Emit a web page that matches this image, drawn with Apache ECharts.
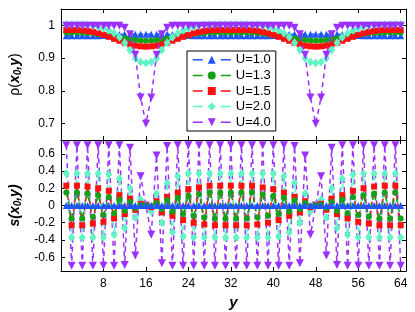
<!DOCTYPE html>
<html><head><meta charset="utf-8">
<script src="https://cdn.jsdelivr.net/npm/echarts@6/dist/echarts.min.js"></script>
<style>html,body{margin:0;padding:0;background:#fff}#c{width:415px;height:312px}</style>
</head><body><div id="c"></div>
<script>
const sites = [1,2,3,4,5,6,7,8,9,10,11,12,13,14,15,16,17,18,19,20,21,22,23,24,25,26,27,28,29,30,31,32,33,34,35,36,37,38,39,40,41,42,43,44,45,46,47,48,49,50,51,52,53,54,55,56,57,58,59,60,61,62,63,64];
const seriesNames = ['U=1.0','U=1.3','U=1.5','U=2.0','U=4.0'];
const xTicks = [8,16,24,32,40,48,56,64];
const rhoTicks = [0.7,0.8,0.9,1];
const sTicks = [-0.6,-0.4,-0.2,0,0.2,0.4,0.6];

// rho(x0,y)
const rhoU10 = [0.968,0.968,0.968,0.968,0.968,0.968,0.968,0.969,0.970,0.971,0.972,0.973,0.973,0.973,0.973,0.973,0.973,0.973,0.973,0.973,0.972,0.971,0.970,0.969,0.968,0.968,0.968,0.968,0.968,0.968,0.968,0.968,0.968,0.968,0.968,0.968,0.968,0.968,0.968,0.969,0.970,0.971,0.972,0.973,0.973,0.973,0.973,0.973,0.973,0.973,0.973,0.973,0.972,0.971,0.970,0.969,0.968,0.968,0.968,0.968,0.968,0.968,0.968,0.968];
const rhoU13 = [0.978,0.978,0.978,0.978,0.977,0.976,0.974,0.972,0.969,0.966,0.963,0.960,0.957,0.955,0.954,0.953,0.954,0.955,0.957,0.960,0.963,0.966,0.969,0.972,0.974,0.976,0.977,0.978,0.978,0.978,0.978,0.978,0.978,0.978,0.978,0.978,0.977,0.976,0.974,0.972,0.969,0.966,0.963,0.960,0.957,0.955,0.954,0.953,0.954,0.955,0.957,0.960,0.963,0.966,0.969,0.972,0.974,0.976,0.977,0.978,0.978,0.978,0.978,0.978];
const rhoU15 = [0.986,0.986,0.986,0.985,0.983,0.980,0.976,0.971,0.965,0.959,0.953,0.947,0.942,0.938,0.936,0.935,0.936,0.938,0.942,0.947,0.953,0.959,0.965,0.971,0.976,0.980,0.983,0.985,0.986,0.986,0.986,0.986,0.986,0.986,0.986,0.985,0.983,0.980,0.976,0.971,0.965,0.959,0.953,0.947,0.942,0.938,0.936,0.935,0.936,0.938,0.942,0.947,0.953,0.959,0.965,0.971,0.976,0.980,0.983,0.985,0.986,0.986,0.986,0.986];
const rhoU20 = [1.003,1.003,1.003,1.002,1.002,0.999,0.996,0.991,0.985,0.976,0.964,0.947,0.925,0.900,0.888,0.885,0.888,0.900,0.925,0.947,0.964,0.976,0.985,0.991,0.996,0.999,1.002,1.002,1.003,1.003,1.003,1.003,1.003,1.003,1.003,1.002,1.002,0.999,0.996,0.991,0.985,0.976,0.964,0.947,0.925,0.900,0.888,0.885,0.888,0.900,0.925,0.947,0.964,0.976,0.985,0.991,0.996,0.999,1.002,1.002,1.003,1.003,1.003,1.003];
const rhoU40 = [0.999,0.999,0.999,0.999,0.999,0.999,0.999,0.999,0.999,0.999,0.999,0.993,0.973,0.910,0.780,0.700,0.780,0.910,0.973,0.993,0.999,0.999,0.999,0.999,0.999,0.999,0.999,0.999,0.999,0.999,0.999,0.999,0.999,0.999,0.999,0.999,0.999,0.999,0.999,0.999,0.999,0.999,0.999,0.993,0.973,0.910,0.780,0.700,0.780,0.910,0.973,0.993,0.999,0.999,0.999,0.999,0.999,0.999,0.999,0.999,0.999,0.999,0.999,0.999];

// s(x0,y)
const sU10 = [0,0,0,0,0,0,0,0,0,0,0,0,0,0,0,0,0,0,0,0,0,0,0,0,0,0,0,0,0,0,0,0,0,0,0,0,0,0,0,0,0,0,0,0,0,0,0,0,0,0,0,0,0,0,0,0,0,0,0,0,0,0,0,0];
const sU13 = [0.15,-0.15,0.15,-0.15,0.14,-0.13,0.12,-0.11,0.10,-0.09,0.07,-0.06,0.04,-0.03,0.01,0,-0.01,0.03,-0.04,0.06,-0.07,0.09,-0.10,0.11,-0.12,0.13,-0.14,0.15,-0.15,0.15,-0.15,0.15,-0.15,0.15,-0.15,0.15,-0.14,0.13,-0.12,0.11,-0.10,0.09,-0.07,0.06,-0.04,0.03,-0.01,0,0.01,-0.03,0.04,-0.06,0.07,-0.09,0.10,-0.11,0.12,-0.13,0.14,-0.15,0.15,-0.15,0.15,-0.15];
const sU15 = [0.23,-0.23,0.23,-0.23,0.22,-0.21,0.20,-0.19,0.17,-0.15,0.12,-0.10,0.08,-0.05,0.02,0,-0.02,0.05,-0.08,0.10,-0.12,0.15,-0.17,0.19,-0.20,0.21,-0.22,0.23,-0.23,0.23,-0.23,0.23,-0.23,0.23,-0.23,0.23,-0.22,0.21,-0.20,0.19,-0.17,0.15,-0.12,0.10,-0.08,0.05,-0.02,0,0.02,-0.05,0.08,-0.10,0.12,-0.15,0.17,-0.19,0.20,-0.21,0.22,-0.23,0.23,-0.23,0.23,-0.23];
const sU20 = [0.37,-0.37,0.37,-0.37,0.37,-0.37,0.37,-0.37,0.36,-0.34,0.31,-0.26,0.20,-0.14,0.07,0,-0.07,0.14,-0.20,0.26,-0.31,0.34,-0.36,0.37,-0.37,0.37,-0.37,0.37,-0.37,0.37,-0.37,0.37,-0.37,0.37,-0.37,0.37,-0.37,0.37,-0.37,0.37,-0.36,0.34,-0.31,0.26,-0.20,0.14,-0.07,0,0.07,-0.14,0.20,-0.26,0.31,-0.34,0.36,-0.37,0.37,-0.37,0.37,-0.37,0.37,-0.37,0.37,-0.37];
const sU40 = [0.70,-0.70,0.70,-0.70,0.70,-0.70,0.70,-0.70,0.70,-0.70,0.70,-0.69,0.67,-0.58,0.34,0,-0.34,0.58,-0.67,0.69,-0.70,0.70,-0.70,0.70,-0.70,0.70,-0.70,0.70,-0.70,0.70,-0.70,0.70,-0.70,0.70,-0.70,0.70,-0.70,0.70,-0.70,0.70,-0.70,0.70,-0.70,0.69,-0.67,0.58,-0.34,0,0.34,-0.58,0.67,-0.69,0.70,-0.70,0.70,-0.70,0.70,-0.70,0.70,-0.70,0.70,-0.70,0.70,-0.70];

const rhoData = [rhoU10, rhoU13, rhoU15, rhoU20, rhoU40];
const sData = [sU10, sU13, sU15, sU20, sU40];
const colors = ['#1f55ff','#15a015','#ff1010','#5ff5c5','#9b30ff'];
const symbols = ['triangle','circle','rect','diamond','triangle'];
const symRot = [0,0,0,0,180];
const symSizes = [7,6,6,[7,9],8];

const chart = echarts.init(document.getElementById('c'), null, {renderer:'canvas'});
const pairs = arr => sites.map((x,i)=>[x, arr[i]]);
const series = [];
for (let i=0;i<5;i++){
  series.push({name:seriesNames[i], type:'line', xAxisIndex:0, yAxisIndex:0, data:pairs(rhoData[i]),
    symbol:symbols[i], symbolRotate:symRot[i], symbolSize:symSizes[i], showAllSymbol:true,
    itemStyle:{color:colors[i], borderWidth:0}, lineStyle:{color:colors[i], width:1.5, type:[5,4]},
    z:2+i, animation:false, clip:true});
}
for (let i=0;i<5;i++){
  series.push({name:seriesNames[i], type:'line', xAxisIndex:2, yAxisIndex:2, data:pairs(sData[i]),
    symbol:symbols[i], symbolRotate:symRot[i], symbolSize:symSizes[i], showAllSymbol:true,
    itemStyle:{color:colors[i], borderWidth:0}, lineStyle:{color:colors[i], width:1.5, type:[5,4]},
    z:7-i, animation:false, clip:true});
}
const lineS = {show:true, onZero:false, lineStyle:{color:'#000', width:1}};
const tickS = (vals)=>({show:true, inside:true, length:4, customValues:vals, lineStyle:{color:'#000', width:1}});
const lblFont = {fontFamily:'Liberation Sans, Arial, sans-serif', fontSize:12, color:'#000'};
const xBase = {type:'value', min:0, max:65, splitLine:{show:false}, axisLine:lineS};
const option = {
  animation:false,
  grid:[{left:58, top:9, right:9, height:131},{left:58, top:140, right:9, height:131}],
  legend:{data:seriesNames, orient:'vertical', left:187, top:51, itemWidth:38, itemHeight:10, itemGap:0,
    padding:[1,5,1,5], borderColor:'#000', borderWidth:1, backgroundColor:'#fff',
    lineStyle:{type:[10,18], width:1.5},
    textStyle:{fontFamily:'Liberation Sans, Arial, sans-serif', fontSize:13, lineHeight:15.6, color:'#000'}, z:20},
  xAxis:[
    Object.assign({gridIndex:0, position:'bottom', axisTick:tickS(xTicks), axisLabel:{show:false}}, xBase),
    Object.assign({gridIndex:0, position:'top', axisTick:tickS(xTicks), axisLabel:{show:false}}, xBase),
    Object.assign({gridIndex:1, position:'bottom', axisTick:tickS(xTicks),
      axisLabel:Object.assign({show:true, customValues:xTicks, margin:7}, lblFont),
      name:'y', nameLocation:'middle', nameGap:24,
      nameTextStyle:{fontFamily:'Liberation Sans, Arial, sans-serif', fontSize:15, fontWeight:'bold', fontStyle:'italic', color:'#000'}}, xBase),
    Object.assign({gridIndex:1, position:'top', axisTick:tickS(xTicks), axisLabel:{show:false}}, xBase)
  ],
  yAxis:[
    {type:'value', gridIndex:0, position:'left', min:0.65, max:1.05, splitLine:{show:false}, axisLine:lineS,
      axisTick:tickS(rhoTicks),
      axisLabel:Object.assign({show:true, customValues:rhoTicks, margin:6, formatter:v=>String(+v.toFixed(2))}, lblFont),
      name:'{a|ρ(}{b|x}{c|0}{b|,y}{a|)}', nameLocation:'middle', nameGap:38, nameRotate:90,
      nameTextStyle:{rich:{
        a:{fontFamily:'Liberation Sans, Arial, sans-serif', fontSize:14, color:'#000'},
        b:{fontFamily:'Liberation Sans, Arial, sans-serif', fontSize:14, fontWeight:'bold', fontStyle:'italic', color:'#000'},
        c:{fontFamily:'Liberation Sans, Arial, sans-serif', fontSize:10, fontWeight:'bold', fontStyle:'italic', color:'#000', padding:[6,0,0,0]}}}},
    {type:'value', gridIndex:0, position:'right', min:0.65, max:1.05, splitLine:{show:false}, axisLine:lineS,
      axisTick:tickS(rhoTicks), axisLabel:{show:false}},
    {type:'value', gridIndex:1, position:'left', min:-0.76, max:0.76, splitLine:{show:false}, axisLine:lineS,
      axisTick:tickS(sTicks),
      axisLabel:Object.assign({show:true, customValues:sTicks, margin:6, formatter:v=>String(+v.toFixed(2))}, lblFont),
      name:'{b|s(x}{c|0}{b|,y)}', nameLocation:'middle', nameGap:38, nameRotate:90,
      nameTextStyle:{rich:{
        b:{fontFamily:'Liberation Sans, Arial, sans-serif', fontSize:14, fontWeight:'bold', fontStyle:'italic', color:'#000'},
        c:{fontFamily:'Liberation Sans, Arial, sans-serif', fontSize:10, fontWeight:'bold', fontStyle:'italic', color:'#000', padding:[6,0,0,0]}}}},
    {type:'value', gridIndex:1, position:'right', min:-0.76, max:0.76, splitLine:{show:false}, axisLine:lineS,
      axisTick:tickS(sTicks), axisLabel:{show:false}}
  ],
  series:series
};
chart.setOption(option);
</script></body></html>
